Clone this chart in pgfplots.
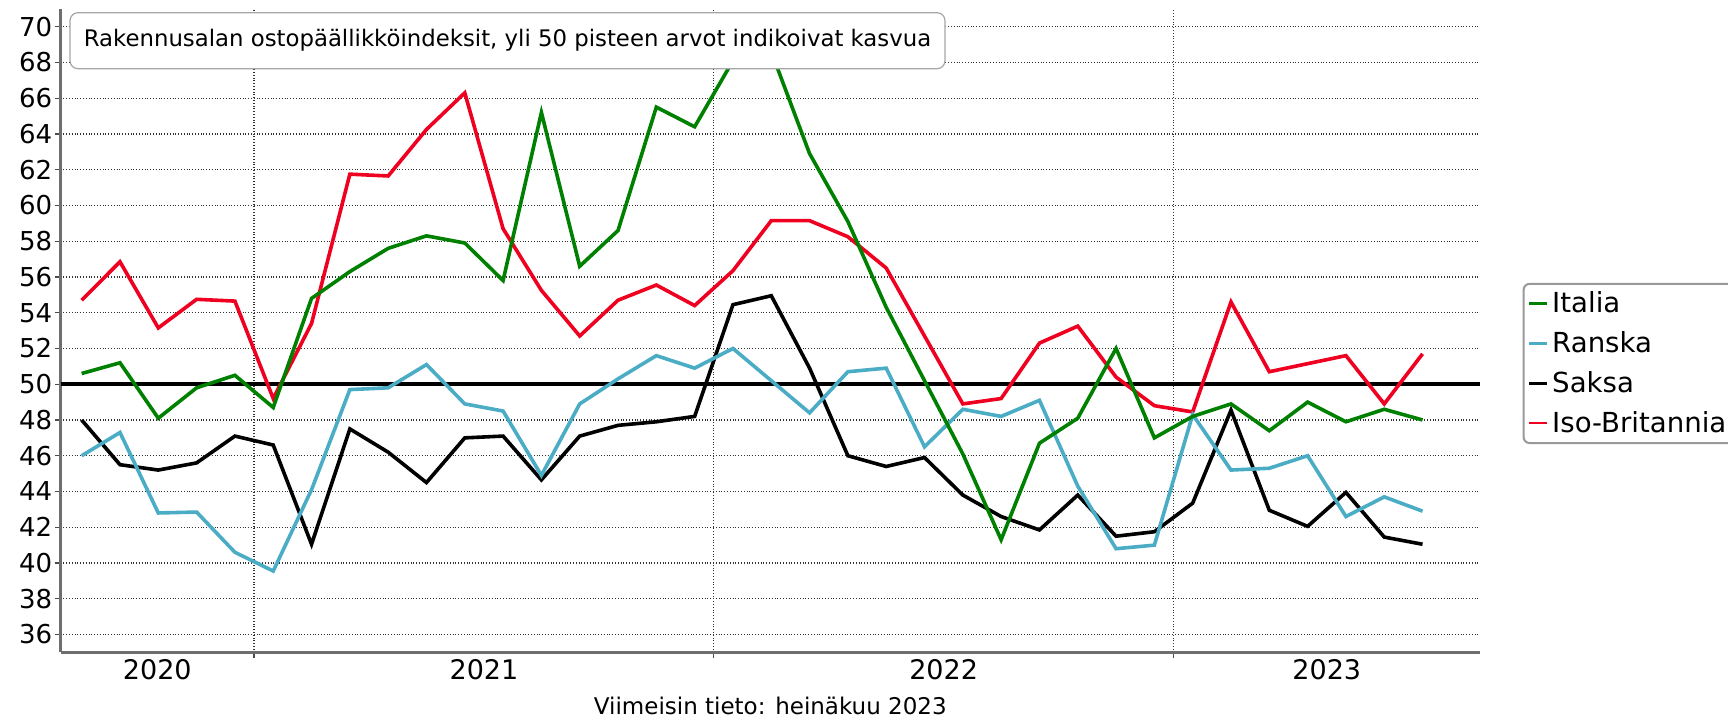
\documentclass[border=0pt]{standalone}
\usepackage{pgfplots}
\usepackage{pgfplotstable}
\pgfplotsset{compat=1.18}
\usepackage{fontspec}
\setmainfont{DejaVu Sans}
\definecolor{cIT}{HTML}{008000}
\definecolor{cFR}{HTML}{4BACC6}
\definecolor{cDE}{HTML}{000000}
\definecolor{cUK}{HTML}{F00020}
\definecolor{axgray}{HTML}{6E6E6E}
\pgfplotstableread{
x it fr de uk
7.5 50.6 46.0 48.0 54.7
8.5 51.2 47.3 45.5 56.85
9.5 48.1 42.8 45.2 53.15
10.5 49.8 42.85 45.6 54.75
11.5 50.5 40.6 47.1 54.65
12.5 48.7 39.55 46.6 49.2
13.5 54.8 44.1 41.05 53.4
14.5 56.3 49.7 47.5 61.75
15.5 57.6 49.8 46.2 61.65
16.5 58.3 51.1 44.5 64.25
17.5 57.9 48.9 47.0 66.3
18.5 55.8 48.5 47.1 58.7
19.5 65.2 44.9 44.65 55.25
20.5 56.6 48.9 47.1 52.7
21.5 58.6 50.3 47.7 54.7
22.5 65.5 51.6 47.9 55.55
23.5 64.4 50.9 48.2 54.4
24.5 68.1 52.0 54.45 56.35
25.5 68.6 50.2 54.95 59.15
26.5 62.9 48.4 50.9 59.15
27.5 59.1 50.7 46.0 58.25
28.5 54.3 50.9 45.4 56.5
29.5 50.2 46.5 45.9 52.7
30.5 46.1 48.6 43.8 48.9
31.5 41.3 48.2 42.6 49.2
32.5 46.7 49.1 41.85 52.3
33.5 48.1 44.3 43.8 53.25
34.5 52.0 40.8 41.5 50.4
35.5 47.0 41.0 41.75 48.8
36.5 48.2 48.3 43.35 48.45
37.5 48.9 45.2 48.55 54.6
38.5 47.4 45.3 42.95 50.7
39.5 49.0 46.0 42.05 51.15
40.5 47.9 42.6 43.95 51.6
41.5 48.6 43.7 41.45 48.9
42.5 48.0 42.9 41.05 51.7
}\data
\begin{document}
\begin{tikzpicture}
\begin{axis}[
  name=ax,
  scale only axis,
  width=709.7pt, height=321.8pt,
  xmin=6.95, xmax=44, ymin=35, ymax=71,
  ytick={36,38,...,70},
  xtick={12,24,36}, xticklabels={},
  extra x ticks={9.475,18,30,40},
  extra x tick labels={2020,2021,2022,2023},
  extra x tick style={grid=none, major tick length=0pt},
  grid=major,
  major grid style={black!80, densely dotted, line width=0.6pt},
  axis x line*=bottom, axis y line*=left,
  axis line style={-, line width=1.5pt, color=axgray},
  tick align=outside, major tick length=3pt,
  tick style={black!70, line width=0.6pt},
  /pgf/number format/assume math mode=true,
  yticklabel style={font=\fontsize{13}{15}\selectfont, inner xsep=1pt},
  xticklabel style={font=\fontsize{13.5}{16}\selectfont},
  xlabel={Viimeisin tieto: heinäkuu 2023},
  xlabel style={font=\fontsize{11.5}{13}\selectfont, at={(axis description cs:0.5,0)}, anchor=center, yshift=-26.8pt},
  legend style={at={(1,1)}, anchor=north west, xshift=21.3pt, yshift=-137pt,
    draw=gray!80, line width=1pt, rounded corners=3pt,
    font=\fontsize{13.8}{16}\selectfont, row sep=3.9pt, inner xsep=2pt, inner ysep=2pt},
  legend cell align=left,
  reverse legend,
  legend image code/.code={\draw[line width=1.3pt] (0pt,0pt) -- (9pt,0pt);},
]
\addplot[black, line width=2pt, forget plot] coordinates {(6.95,50) (44,50)};
\addplot[cUK, line width=1.8pt] table[x=x, y=uk] {\data};
\addlegendentry{Iso-Britannia}
\addplot[cDE, line width=1.8pt] table[x=x, y=de] {\data};
\addlegendentry{Saksa}
\addplot[cFR, line width=1.8pt] table[x=x, y=fr] {\data};
\addlegendentry{Ranska}
\addplot[cIT, line width=1.8pt] table[x=x, y=it] {\data};
\addlegendentry{Italia}
\end{axis}
\node[draw=gray!70, fill=white, rounded corners=4pt, line width=0.6pt, anchor=north west,
  minimum width=437.5pt, minimum height=28pt, font=\fontsize{11.4}{13}\selectfont]
  at ([xshift=4.4pt, yshift=-1.65pt]ax.north west) {Rakennusalan ostopäällikköindeksit, yli 50 pisteen arvot indikoivat kasvua};
\pgfresetboundingbox
\path[use as bounding box] ([xshift=-30.3pt, yshift=-32.8pt]ax.south west) rectangle ++(864pt,359pt);
\end{tikzpicture}
\end{document}
